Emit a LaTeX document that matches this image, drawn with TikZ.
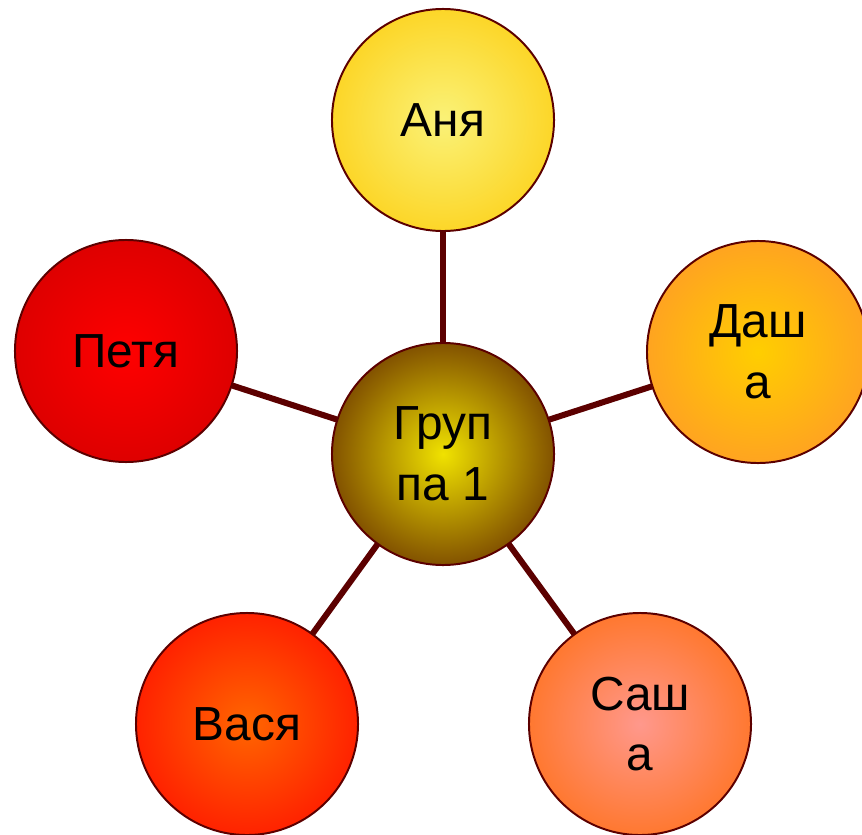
\documentclass[tikz,border=0pt]{standalone}
\usepackage{fontspec}
\setmainfont{Liberation Sans}
\usetikzlibrary{backgrounds}
\definecolor{rim}{HTML}{5C0000}
\tikzset{
	kruzhok/.style={circle, draw=rim, line width=1.4pt, minimum size=5.55cm, inner sep=0pt, align=center, font=\fontsize{34}{43}\selectfont},
	svyaz/.style={draw=rim, line width=4.3pt}
}
\begin{document}
\begin{tikzpicture}[x=0.025cm,y=-0.025cm]
			\useasboundingbox (0,0) rectangle (862,835);
			\node[kruzhok, inner color={rgb,255:red,240;green,226;blue,0}, outer color={rgb,255:red,130;green,82;blue,0}] (gruppa) at (443,454) {Груп\\па 1};
			\node[kruzhok, inner color={rgb,255:red,250;green,242;blue,120}, outer color={rgb,255:red,252;green,214;blue,40}] (anya) at (443,120) {Аня};
			\node[kruzhok, inner color={rgb,255:red,255;green,206;blue,0}, outer color={rgb,255:red,255;green,164;blue,32}] (dasha) at (758,352) {Даш\\а};
			\node[kruzhok, inner color={rgb,255:red,255;green,152;blue,140}, outer color={rgb,255:red,255;green,120;blue,48}] (sasha) at (640,724) {Саш\\а};
			\node[kruzhok, inner color={rgb,255:red,255;green,102;blue,0}, outer color={rgb,255:red,255;green,34;blue,0}] (vasya) at (247,724) {Вася};
			\node[kruzhok, inner color={rgb,255:red,255;green,0;blue,0}, outer color={rgb,255:red,222;green,0;blue,0}] (petya) at (126,351) {Петя};
			\begin{scope}[on background layer]
				\foreach \imya in {anya,dasha,sasha,vasya,petya}{
					\draw [svyaz] (gruppa.center)--(\imya.center);
				}
			\end{scope}
\end{tikzpicture}
\end{document}
